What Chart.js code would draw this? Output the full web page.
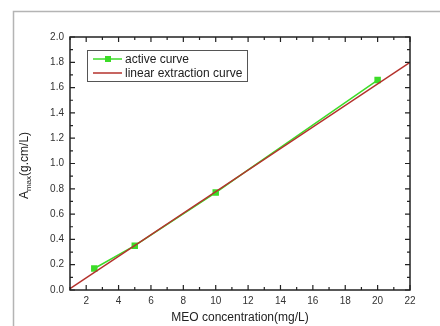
<!DOCTYPE html>
<html>
<head>
<meta charset="utf-8">
<script src="https://cdn.jsdelivr.net/npm/chart.js"></script>
<style>
  body { margin: 0; background: #fff; }
  canvas { display: block; }
</style>
</head>
<body>
<canvas id="chart" width="440" height="326"></canvas>
<script>
// data
var activeX = [2.5, 5, 10, 12, 20];
var activeY = [0.17, 0.35, 0.77, 0.95, 1.66];
var activeMarker = [3.5, 3.5, 3.5, 0, 3.5];
var fitX = [1, 22];
var fitY = [0.01, 1.80];
var xTicks = [2, 4, 6, 8, 10, 12, 14, 16, 18, 20, 22];
var yTicks = [0, 0.2, 0.4, 0.6, 0.8, 1.0, 1.2, 1.4, 1.6, 1.8, 2.0];
var seriesNames = ['active curve', 'linear extraction curve'];

var FONT = '"Liberation Sans", Arial, sans-serif';
var GREEN = 'rgb(60,220,40)';
var RED = 'rgb(180,50,45)';

function toPoints(xs, ys) {
  return xs.map(function (x, i) { return { x: x, y: ys[i] }; });
}

// outer frame, inner ticks on all sides, box border, y title, legend
var decor = {
  id: 'decor',
  beforeDraw: function (chart) {
    var ctx = chart.ctx;
    ctx.save();
    ctx.strokeStyle = '#b4b4b4';
    ctx.lineWidth = 1.5;
    ctx.strokeRect(13.5, 11.5, 500, 400);
    ctx.restore();
  },
  afterDraw: function (chart) {
    var ctx = chart.ctx, a = chart.chartArea;
    var xs = chart.scales.x, ys = chart.scales.y;
    ctx.save();
    ctx.strokeStyle = '#222';
    ctx.lineWidth = 1.2;
    // ticks
    ctx.beginPath();
    for (var v = 1; v <= 22; v++) {
      var px = xs.getPixelForValue(v);
      var len = (v % 2 === 0) ? 5 : 3;
      ctx.moveTo(px, a.bottom); ctx.lineTo(px, a.bottom - len);
      ctx.moveTo(px, a.top); ctx.lineTo(px, a.top + len);
    }
    for (var k = 0; k <= 20; k++) {
      var py = ys.getPixelForValue(k / 10);
      var l2 = (k % 2 === 0) ? 5 : 3;
      ctx.moveTo(a.left, py); ctx.lineTo(a.left + l2, py);
      ctx.moveTo(a.right, py); ctx.lineTo(a.right - l2, py);
    }
    ctx.stroke();
    // box
    ctx.lineWidth = 1.5;
    ctx.strokeRect(a.left, a.top, a.right - a.left, a.bottom - a.top);

    // y axis title with subscript
    ctx.fillStyle = '#222';
    ctx.translate(24, (a.top + a.bottom) / 2 + 2);
    ctx.rotate(-Math.PI / 2);
    ctx.textBaseline = 'alphabetic';
    ctx.font = '12px ' + FONT;
    var wA = ctx.measureText('A').width;
    ctx.font = '8px ' + FONT;
    var wSub = ctx.measureText('max').width;
    ctx.font = '12px ' + FONT;
    var wRest = ctx.measureText('(g.cm/L)').width;
    var x0 = -(wA + wSub + wRest) / 2;
    ctx.textAlign = 'left';
    ctx.fillText('A', x0, 4);
    ctx.font = '8px ' + FONT;
    ctx.fillText('max', x0 + wA, 7);
    ctx.font = '12px ' + FONT;
    ctx.fillText('(g.cm/L)', x0 + wA + wSub, 4);
    ctx.setTransform(1, 0, 0, 1, 0, 0);

    // legend
    var bx = 87, by = 50, bw = 160, bh = 31;
    ctx.fillStyle = '#fff';
    ctx.fillRect(bx, by, bw, bh);
    ctx.strokeStyle = '#555';
    ctx.lineWidth = 1;
    ctx.strokeRect(bx + 0.5, by + 0.5, bw, bh);
    var ds = chart.data.datasets;
    var rows = [by + 9, by + 23];
    for (var i = 0; i < ds.length; i++) {
      ctx.strokeStyle = ds[i].borderColor;
      ctx.lineWidth = 1.5;
      ctx.beginPath();
      ctx.moveTo(bx + 6, rows[i]); ctx.lineTo(bx + 35, rows[i]);
      ctx.stroke();
      if (i === 0) {
        ctx.fillStyle = ds[i].pointBackgroundColor;
        ctx.fillRect(bx + 18, rows[i] - 3, 6, 6);
      }
      ctx.fillStyle = '#222';
      ctx.font = '12px ' + FONT;
      ctx.textAlign = 'left';
      ctx.textBaseline = 'middle';
      ctx.fillText(ds[i].label, bx + 38, rows[i] + 1);
    }
    ctx.restore();
  }
};

new Chart(document.getElementById('chart'), {
  type: 'scatter',
  data: {
    datasets: [
      {
        label: seriesNames[0],
        data: toPoints(activeX, activeY),
        showLine: true,
        borderColor: GREEN,
        backgroundColor: GREEN,
        pointBackgroundColor: GREEN,
        pointBorderColor: GREEN,
        borderWidth: 1.5,
        pointStyle: 'rect',
        pointRadius: activeMarker,
        order: 1
      },
      {
        label: seriesNames[1],
        data: toPoints(fitX, fitY),
        showLine: true,
        borderColor: RED,
        backgroundColor: RED,
        borderWidth: 1.5,
        pointRadius: 0,
        order: 0
      }
    ]
  },
  options: {
    responsive: false,
    animation: false,
    layout: { padding: { left: 0, top: 37, right: 30, bottom: 0 } },
    plugins: { legend: { display: false }, tooltip: { enabled: false } },
    scales: {
      x: {
        type: 'linear',
        min: 1, max: 22,
        afterFit: function (s) { s.height = 36; },
        afterBuildTicks: function (s) { s.ticks = xTicks.map(function (v) { return { value: v }; }); },
        grid: { display: false, drawTicks: false },
        border: { display: false },
        ticks: { padding: 5, color: '#333', font: { family: FONT, size: 10 }, maxRotation: 0 },
        title: { display: true, text: 'MEO concentration(mg/L)', color: '#222', font: { family: FONT, size: 12 }, padding: { top: 0, bottom: 1 } }
      },
      y: {
        type: 'linear',
        min: 0, max: 2,
        afterFit: function (s) { s.width = 70; },
        afterBuildTicks: function (s) { s.ticks = yTicks.map(function (v) { return { value: v }; }); },
        grid: { display: false, drawTicks: false },
        border: { display: false },
        ticks: { padding: 6, color: '#333', font: { family: FONT, size: 10 }, callback: function (v) { return v.toFixed(1); } }
      }
    }
  },
  plugins: [decor]
});
</script>
</body>
</html>
